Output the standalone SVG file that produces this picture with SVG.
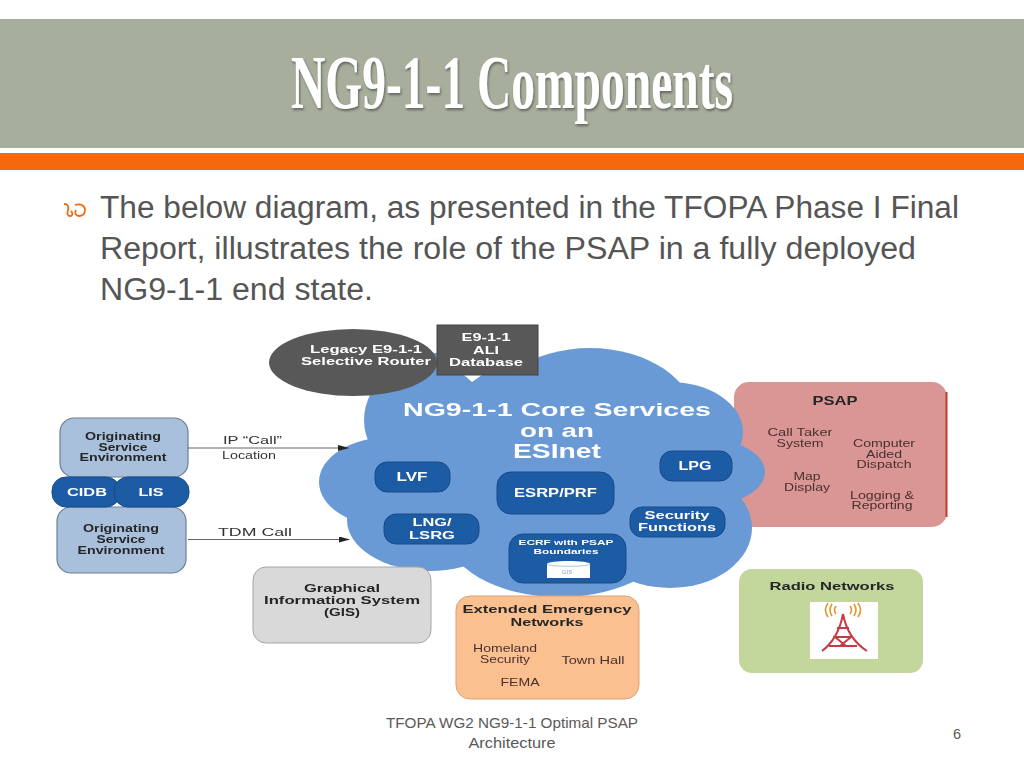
<svg xmlns="http://www.w3.org/2000/svg" width="1024" height="768" viewBox="0 0 1024 768">
<style>
text{font-family:"Liberation Sans",Arial,sans-serif}
.d{font-weight:bold;fill:#262626;text-anchor:middle}
.w{font-weight:bold;fill:#fff;text-anchor:middle}
.t{fill:#4a3030;text-anchor:middle;font-size:11.5px}
.n{fill:#1f5ba5;stroke:#174a88;stroke-width:1}
.o{fill:#a9c0dc;stroke:#6f7f92;stroke-width:1.2}
.c{fill:#6a9ad6}
.f{fill:#595959}
.l{stroke:#666;stroke-width:1;fill:none}
.b{fill:#555;font-size:31px}
.g{fill:#595959;font-size:14.5px;text-anchor:middle}
</style>
<defs>
<marker id="a" markerWidth="11" markerHeight="6" refX="10" refY="3" orient="auto" markerUnits="userSpaceOnUse"><path d="M0 0L11 3L0 6Z" fill="#222"/></marker>
<filter id="s" x="-5%" y="-5%" width="110%" height="110%"><feGaussianBlur stdDeviation="0.45"/></filter>
<filter id="h" x="-5%" y="-10%" width="110%" height="125%"><feDropShadow dx="1" dy="2" stdDeviation="1.2" flood-color="#333" flood-opacity="0.55"/></filter>
</defs>
<rect width="1024" height="768" fill="#fff"/>
<rect x="0" y="19" width="1024" height="129" fill="#a7ae9c"/>
<rect x="0" y="153" width="1024" height="17" fill="#f4690d"/>
<text x="291" y="108" font-size="76" font-weight="bold" textLength="442" lengthAdjust="spacingAndGlyphs" fill="#fff" filter="url(#h)" style="font-family:'Liberation Serif',serif">NG9-1-1 Components</text>
<path d="M64 204c4 0 5 3 4 6s-1 6 2 6 3-3 1-5m4-6c6-2 10 1 10 5s-3 6-6 6-5-3-3-6" fill="none" stroke="#f4690d" stroke-width="1.800"/>
<text class="b" x="100" y="218" textLength="859" lengthAdjust="spacingAndGlyphs">The below diagram, as presented in the TFOPA Phase I Final</text>
<text class="b" x="100" y="259" textLength="816" lengthAdjust="spacingAndGlyphs">Report, illustrates the role of the PSAP in a fully deployed</text>
<text class="b" x="100" y="300" textLength="273" lengthAdjust="spacingAndGlyphs">NG9-1-1 end state.</text>

<g filter="url(#s)">
<g id="psap">
<rect x="734" y="382" width="213" height="145" rx="15" fill="#d99694"/>
<path d="M946.500 392V517" stroke="#c0392f" stroke-width="2"/>
<text class="d" x="835" y="405" font-size="12" textLength="45" lengthAdjust="spacingAndGlyphs">PSAP</text>
<text class="t" x="800" y="436" textLength="65" lengthAdjust="spacingAndGlyphs">Call Taker</text><text class="t" x="800" y="447" textLength="47" lengthAdjust="spacingAndGlyphs">System</text>
<text class="t" x="884" y="447" textLength="62" lengthAdjust="spacingAndGlyphs">Computer</text><text class="t" x="884" y="458" textLength="36" lengthAdjust="spacingAndGlyphs">Aided</text><text class="t" x="884" y="468" textLength="55" lengthAdjust="spacingAndGlyphs">Dispatch</text>
<text class="t" x="807" y="480" textLength="27" lengthAdjust="spacingAndGlyphs">Map</text><text class="t" x="807" y="491" textLength="46" lengthAdjust="spacingAndGlyphs">Display</text>
<text class="t" x="882" y="499" textLength="64" lengthAdjust="spacingAndGlyphs">Logging &amp;</text><text class="t" x="882" y="509" textLength="61" lengthAdjust="spacingAndGlyphs">Reporting</text>
</g>
<g id="cloud">
<ellipse class="c" cx="590" cy="420" rx="105" ry="72"/>
<ellipse class="c" cx="450" cy="420" rx="86" ry="68"/>
<ellipse class="c" cx="670" cy="432" rx="73" ry="50"/>
<ellipse class="c" cx="390" cy="482" rx="71" ry="45"/>
<ellipse class="c" cx="430" cy="520" rx="83" ry="51"/>
<ellipse class="c" cx="560" cy="530" rx="115" ry="67"/>
<ellipse class="c" cx="702" cy="472" rx="63" ry="34"/>
<ellipse class="c" cx="670" cy="528" rx="82" ry="60"/>
<rect class="c" x="420" y="420" width="270" height="120"/>
<path d="M464 375H482L472 382Z" fill="#fff"/>
<text class="w" x="557" y="416" font-size="19" textLength="308" lengthAdjust="spacingAndGlyphs">NG9-1-1 Core Services</text>
<text class="w" x="557" y="437" font-size="19" textLength="74" lengthAdjust="spacingAndGlyphs">on an</text>
<text class="w" x="557" y="458" font-size="20" textLength="88" lengthAdjust="spacingAndGlyphs">ESInet</text>
</g>
<g id="legacy">
<ellipse class="f" cx="353" cy="362.500" rx="84" ry="33.500"/>
<text class="w" x="366" y="353" font-size="11.500" textLength="112" lengthAdjust="spacingAndGlyphs">Legacy E9-1-1</text>
<text class="w" x="366" y="365" font-size="11.500" textLength="130" lengthAdjust="spacingAndGlyphs">Selective Router</text>
</g>
<g id="ali">
<rect x="437" y="325" width="101" height="50" fill="#595959" stroke="#444"/>
<text class="w" x="486" y="341" font-size="11.500" textLength="49" lengthAdjust="spacingAndGlyphs">E9-1-1</text>
<text class="w" x="486" y="354" font-size="11.500" textLength="26" lengthAdjust="spacingAndGlyphs">ALI</text>
<text class="w" x="486" y="366" font-size="11.500" textLength="74" lengthAdjust="spacingAndGlyphs">Database</text>
</g>
<g id="lvf"><rect class="n" x="375" y="462" width="75" height="30" rx="12"/><text class="w" x="412" y="481" font-size="12" textLength="31" lengthAdjust="spacingAndGlyphs">LVF</text></g>
<g id="esrp"><rect class="n" x="497" y="472" width="117" height="42" rx="14"/><text class="w" x="555.500" y="497" font-size="12" textLength="83" lengthAdjust="spacingAndGlyphs">ESRP/PRF</text></g>
<g id="lpg"><rect class="n" x="660" y="451" width="72" height="30" rx="12"/><text class="w" x="695" y="470" font-size="12" textLength="33" lengthAdjust="spacingAndGlyphs">LPG</text></g>
<g id="security"><rect class="n" x="630" y="507" width="95" height="30" rx="12"/>
<text class="w" x="677" y="519" font-size="11.500" textLength="65" lengthAdjust="spacingAndGlyphs">Security</text>
<text class="w" x="677" y="531" font-size="11.500" textLength="78" lengthAdjust="spacingAndGlyphs">Functions</text></g>
<g id="lng"><rect class="n" x="384" y="514" width="95" height="30" rx="12"/>
<text class="w" x="432" y="526" font-size="11.500" textLength="39" lengthAdjust="spacingAndGlyphs">LNG/</text>
<text class="w" x="432" y="539" font-size="11.500" textLength="46" lengthAdjust="spacingAndGlyphs">LSRG</text></g>
<g id="ecrf"><rect class="n" x="509" y="534" width="117" height="49" rx="14"/>
<text class="w" x="566" y="545" font-size="8" textLength="95" lengthAdjust="spacingAndGlyphs">ECRF with PSAP</text>
<text class="w" x="566" y="554" font-size="8" textLength="65" lengthAdjust="spacingAndGlyphs">Boundaries</text>
<path d="M547 564c0-4 43-4 43 0v14h-43z" fill="#fff"/><path d="M547 564c0 3 43 3 43 0" fill="none" stroke="#9fb4cc" stroke-width="0.800"/>
<text x="567" y="574" font-size="6" fill="#8aa0b8" text-anchor="middle">GIS</text></g>
<g id="orig1"><rect class="o" x="60" y="418" width="128" height="59" rx="14"/>
<text class="d" x="123" y="440" font-size="10.500" textLength="76" lengthAdjust="spacingAndGlyphs">Originating</text>
<text class="d" x="123" y="451" font-size="10.500" textLength="49" lengthAdjust="spacingAndGlyphs">Service</text>
<text class="d" x="123" y="461" font-size="10.500" textLength="87" lengthAdjust="spacingAndGlyphs">Environment</text></g>
<g id="orig2"><rect class="o" x="57" y="507" width="129" height="66" rx="14"/>
<text class="d" x="121" y="532" font-size="10.500" textLength="76" lengthAdjust="spacingAndGlyphs">Originating</text>
<text class="d" x="121" y="543" font-size="10.500" textLength="49" lengthAdjust="spacingAndGlyphs">Service</text>
<text class="d" x="121" y="554" font-size="10.500" textLength="87" lengthAdjust="spacingAndGlyphs">Environment</text></g>
<g id="cidb"><rect class="n" x="52" y="477" width="68" height="30" rx="14"/><text class="w" x="87" y="496" font-size="11.500" textLength="40" lengthAdjust="spacingAndGlyphs">CIDB</text></g>
<g id="lis"><rect class="n" x="114" y="477" width="75" height="30" rx="14"/><text class="w" x="151" y="496" font-size="11.500" textLength="25" lengthAdjust="spacingAndGlyphs">LIS</text></g>
<g id="connectors">
<path class="l" d="M188 448H348" marker-end="url(#a)"/>
<path class="l" d="M188 539.500H349" marker-end="url(#a)"/>
</g>
<text x="223" y="444" font-size="11.500" fill="#333" textLength="59" lengthAdjust="spacingAndGlyphs">IP “Call”</text>
<text x="222" y="459" font-size="10" fill="#333" textLength="54" lengthAdjust="spacingAndGlyphs">Location</text>
<text x="218" y="536" font-size="11.500" fill="#333" textLength="74" lengthAdjust="spacingAndGlyphs">TDM  Call</text>
<g id="gis"><rect x="253" y="567" width="178" height="76" rx="13" fill="#d9d9d9" stroke="#a6a6a6"/>
<text class="d" x="342" y="592" font-size="11" textLength="76" lengthAdjust="spacingAndGlyphs">Graphical</text>
<text class="d" x="342" y="604" font-size="11" textLength="156" lengthAdjust="spacingAndGlyphs">Information System</text>
<text class="d" x="342" y="616" font-size="11" textLength="36" lengthAdjust="spacingAndGlyphs">(GIS)</text></g>
<g id="een"><rect x="456" y="596" width="183" height="103" rx="14" fill="#fac090" stroke="#e0a070"/>
<text class="d" x="547" y="613" font-size="11.500" textLength="169" lengthAdjust="spacingAndGlyphs">Extended Emergency</text>
<text class="d" x="547" y="626" font-size="11.500" textLength="73" lengthAdjust="spacingAndGlyphs">Networks</text>
<text class="t" x="505" y="652" font-size="10.500" textLength="64" lengthAdjust="spacingAndGlyphs">Homeland</text><text class="t" x="505" y="663" font-size="10.500" textLength="50" lengthAdjust="spacingAndGlyphs">Security</text>
<text class="t" x="593" y="664" font-size="10.500" textLength="63" lengthAdjust="spacingAndGlyphs">Town Hall</text>
<text class="t" x="520" y="686" font-size="10.500" textLength="39" lengthAdjust="spacingAndGlyphs">FEMA</text></g>
<g id="radio"><rect x="739" y="569" width="184" height="104" rx="13" fill="#c3d69b"/>
<text class="d" x="832" y="590" font-size="11.500" textLength="125" lengthAdjust="spacingAndGlyphs">Radio Networks</text>
<rect x="810" y="602" width="68" height="57" fill="#fff"/>
<g fill="none" stroke="#c53b45" stroke-width="2"><path d="M843 614C840 630 834 642 822 651M843 614C846 630 853 642 867 651M829 646H857M833 637H853M837 628H849M835 637L846 646M851 637L840 646"/></g>
<g fill="none" stroke="#e0962e" stroke-width="1.600"><path d="M836 606q-3 4 0 8M832 604q-4 6 0 12M828 603q-5 7 0 14M850 606q3 4 0 8M854 604q4 6 0 12M858 603q5 7 0 14"/></g>
</g>
</g>
<text class="g" x="512" y="728" textLength="252" lengthAdjust="spacingAndGlyphs">TFOPA WG2 NG9-1-1 Optimal PSAP</text>
<text class="g" x="512" y="748" textLength="87" lengthAdjust="spacingAndGlyphs">Architecture</text>
<text class="g" x="957" y="739">6</text>
</svg>
